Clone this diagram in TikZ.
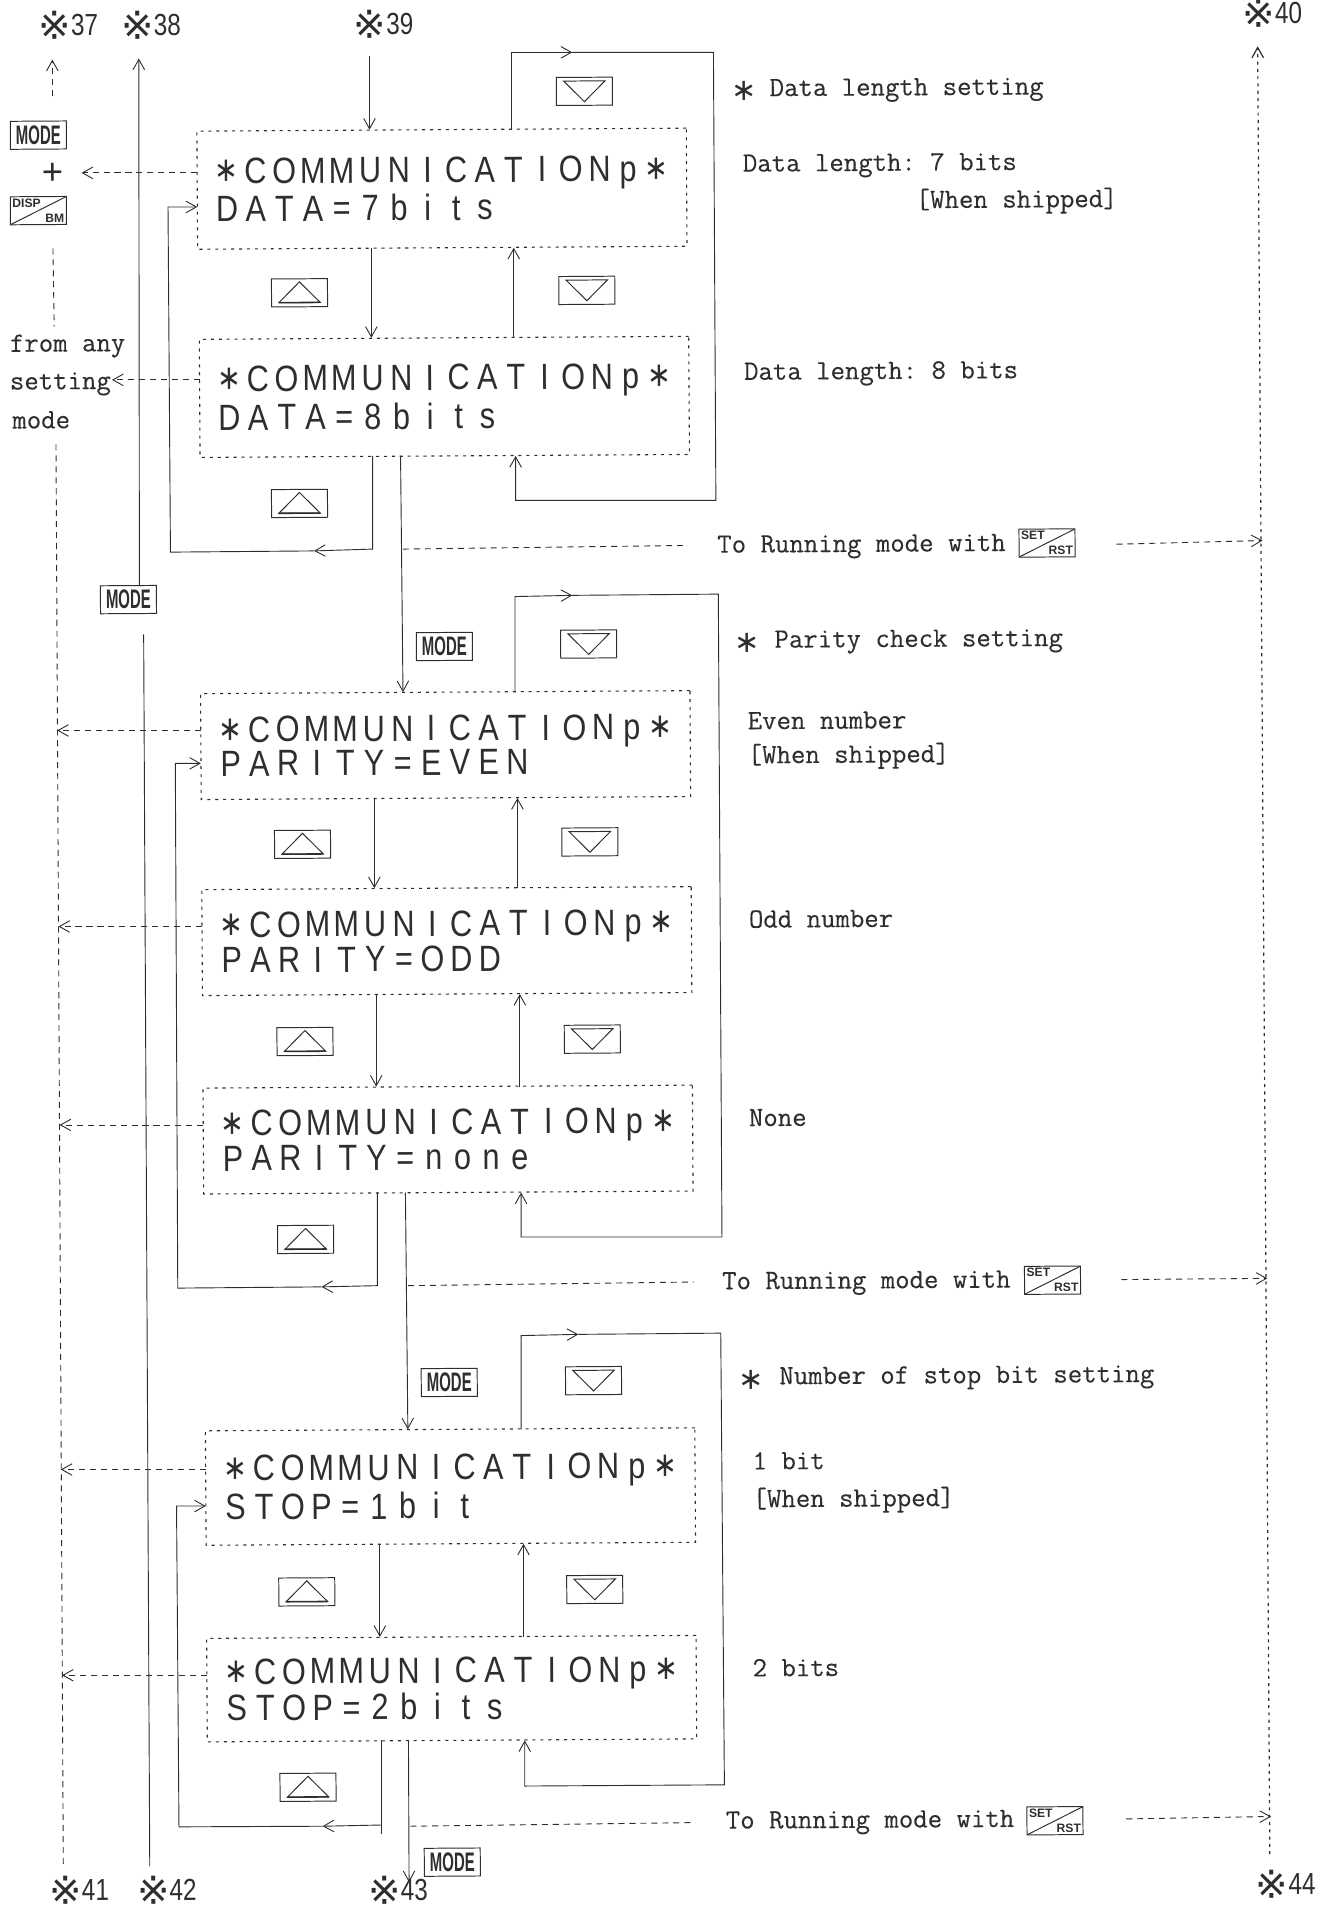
\documentclass[tikz,border=0pt]{standalone}
\usepackage{fontspec}
\usetikzlibrary{arrows.meta,calc}
\newfontfamily\lcdfam{Liberation Sans}
\newfontfamily\symfam{DejaVu Sans}
\setmonofont[FakeBold=0.2]{Latin Modern Mono}
\definecolor{ink}{gray}{0.18}
\newcommand{\lcdcell}[1]{\makebox[23.55pt]{\scalebox{0.84}[1]{#1}}}
\def\lcdrow#1{\lcdloop#1\relax}
\def\lcdloop#1{\ifx#1\relax\else\lcdcell{#1}\expandafter\lcdloop\fi}
\newcommand{\stc}{\raisebox{1.5pt}{\symfam\fontsize{28}{28}\selectfont ∗}}
\newcommand{\lcdtwo}[3]{\vbox{\hsize=376.8pt\lineskiplimit=-100pt\baselineskip=#1pt
  \lcdfam\fontsize{30}{30}\selectfont\baselineskip=#1pt
  \hbox{\lcdrow{#2}}\hbox{\lcdrow{#3}}}}
\newcommand{\hdrmark}{{\symfam\fontsize{25}{25}\selectfont ∗}}
\newcommand{\refm}[1]{\raisebox{-3pt}[14pt][1pt]{\symfam\fontsize{32}{32}\selectfont ※}{\lcdfam\fontsize{25}{25}\selectfont\scalebox{0.8}[1]{#1}}}
\newcommand{\modetext}{\scalebox{0.56}[1]{MODE}}
\tikzset{
  every node/.style={rotate=0.35,text=ink},
  >={Straight Barb[length=8.5pt,width=9.5pt]},
  wire/.style={draw=ink,line width=0.75pt,line join=miter},
  dashwire/.style={wire,dash pattern=on 5pt off 4pt},
  dotwire/.style={wire,line width=1pt,dash pattern=on 2.5pt off 3.5pt},
  lcdbox/.style={draw=ink,line width=0.9pt,dash pattern=on 2.5pt off 4pt,minimum width=402pt,inner sep=0pt,outer sep=0pt},
  keybox/.style={draw=ink,line width=0.8pt,minimum width=46pt,minimum height=23pt,inner sep=0pt,outer sep=0pt},
  modekey/.style={keybox,font=\lcdfam\bfseries\fontsize{22}{22}\selectfont},
  downkey/.style={keybox,path picture={
    \draw[ink,line width=0.8pt] ([xshift=-17pt,yshift=8.5pt]path picture bounding box.center) -- ([xshift=17pt,yshift=8.5pt]path picture bounding box.center) -- ([yshift=-8.5pt]path picture bounding box.center) -- cycle;}},
  upkey/.style={keybox,path picture={
    \draw[ink,line width=0.8pt] ([xshift=-17pt,yshift=-8pt]path picture bounding box.center) -- ([xshift=17pt,yshift=-8pt]path picture bounding box.center) -- ([yshift=9pt]path picture bounding box.center) -- cycle;
    \draw[ink,line width=1.3pt] ([xshift=-17pt,yshift=-8pt]path picture bounding box.center) -- ([xshift=17pt,yshift=-8pt]path picture bounding box.center);}},
  splitkey/.style={keybox,path picture={
    \draw[ink,line width=0.8pt] (path picture bounding box.south west) -- (path picture bounding box.north east);}},
  keyupper/.style={anchor=north west,inner sep=1.5pt,font=\lcdfam\bfseries\fontsize{10}{10}\selectfont},
  keylower/.style={anchor=south east,inner sep=1.5pt,font=\lcdfam\bfseries\fontsize{10}{10}\selectfont},
  txt/.style={anchor=base west,inner sep=0pt,font=\ttfamily\fontsize{23}{26}\selectfont},
  refmark/.style={inner sep=0pt},
}
\begin{document}
\begin{tikzpicture}[x=1pt,y=-1pt]
\useasboundingbox (0,0) rectangle (1094,1568);

% display boxes
\node[lcdbox,minimum height=97pt] (b1) at (363,155) {\lcdtwo{31}{\stc COMMUNICATIONp\stc}{DATA=7bits}};
\node[lcdbox,minimum height=97pt] (b2) at (365,326) {\lcdtwo{32}{\stc COMMUNICATIONp\stc}{DATA=8bits}};
\node[lcdbox,minimum height=87pt] (b3) at (366,612) {\lcdtwo{28}{\stc COMMUNICATIONp\stc}{PARITY=EVEN}};
\node[lcdbox,minimum height=87pt] (b4) at (367,773) {\lcdtwo{29}{\stc COMMUNICATIONp\stc}{PARITY=ODD}};
\node[lcdbox,minimum height=87pt] (b5) at (368,936) {\lcdtwo{29}{\stc COMMUNICATIONp\stc}{PARITY=none}};
\node[lcdbox,minimum height=94pt] (b6) at (370,1221) {\lcdtwo{32}{\stc COMMUNICATIONp\stc}{STOP=1bit}};
\node[lcdbox,minimum height=85pt] (b7) at (371,1387) {\lcdtwo{30}{\stc COMMUNICATIONp\stc}{STOP=2bits}};

% reference marks
\node[refmark] (r37) at (56,21) {\refm{37}};
\node[refmark] (r38) at (124,21) {\refm{38}};
\node[refmark] (r39) at (315,20) {\refm{39}};
\node[refmark] (r40) at (1045,11) {\refm{40}};
\node[refmark] (r41) at (65,1553) {\refm{41}};
\node[refmark] (r42) at (137,1553) {\refm{42}};
\node[refmark] (r43) at (327,1553) {\refm{43}};
\node[refmark] (r44) at (1056,1548) {\refm{44}};

% left column
\node[modekey] (kmode0) at (31.5,111) {\modetext};
\node[inner sep=0pt,font=\lcdfam\fontsize{30}{30}\selectfont] (plus) at (43,143) {+};
\node[splitkey] (kdisp) at (31.5,173) {};
\node[keyupper] (kdispa) at (kdisp.north west) {DISP};
\node[keylower] (kdispb) at (kdisp.south east) {BM};
\node[txt] (t1) at (8,289) {from any};
\node[txt] (t2) at (8,320) {setting};
\node[txt] (t3) at (10,352) {mode};
\node[modekey] (kmode1) at (105.5,492.5) {\modetext};

% keys, section 1
\node[downkey] (d1) at (480,75) {};
\node[upkey] (u1) at (246,240.5) {};
\node[downkey] (d2) at (482,238.5) {};
\node[upkey] (u2) at (246,413.5) {};
% section 2
\node[modekey] (kmode2) at (365,531) {\modetext};
\node[downkey] (d3) at (483.5,529) {};
\node[upkey] (u3) at (248.5,693.5) {};
\node[downkey] (d4) at (484.5,691.5) {};
\node[upkey] (u4) at (250.5,855.5) {};
\node[downkey] (d5) at (486.5,853.5) {};
\node[upkey] (u5) at (251,1018) {};
% section 3
\node[modekey] (kmode3) at (369,1135.5) {\modetext};
\node[downkey] (d6) at (487.5,1134) {};
\node[upkey] (u6) at (252,1307.5) {};
\node[downkey] (d7) at (488.5,1305.5) {};
\node[upkey] (u7) at (253,1468) {};
\node[modekey] (kmode4) at (371.5,1529.5) {\modetext};

% right texts
\node[inner sep=0pt] (a1) at (611,75) {\hdrmark};
\node[txt] (h1) at (632,79) {Data length setting};
\node[txt] (n1) at (610,141) {Data length: 7 bits};
\node[txt] (n2) at (752,171) {[When shipped]};
\node[txt] (n3) at (611,312) {Data length: 8 bits};
\node[inner sep=0pt] (a2) at (614,528) {\hdrmark};
\node[txt] (h2) at (636,532) {Parity check setting};
\node[txt] (n4) at (614,599) {Even number};
\node[txt] (n5) at (614,627) {[When shipped]};
\node[txt] (n6) at (615,762) {Odd number};
\node[txt] (n7) at (615,925) {None};
\node[inner sep=0pt] (a3) at (617,1133) {\hdrmark};
\node[txt] (h3) at (640,1137) {Number of stop bit setting};
\node[txt] (n8) at (618,1207) {1 bit};
\node[txt] (n9) at (618,1238) {[When shipped]};
\node[txt] (n10) at (618,1377) {2 bits};
\node[txt] (run1) at (589,454) {To Running mode with};
\node[splitkey] (s1) at (860,446) {};
\node[keyupper] (s1a) at (s1.north west) {SET};
\node[keylower] (s1b) at (s1.south east) {RST};
\node[txt] (run2) at (593,1059) {To Running mode with};
\node[splitkey] (s2) at (864.5,1051.5) {};
\node[keyupper] (s2a) at (s2.north west) {SET};
\node[keylower] (s2b) at (s2.south east) {RST};
\node[txt] (run3) at (596,1502) {To Running mode with};
\node[splitkey] (s3) at (866.5,1495.5) {};
\node[keyupper] (s3a) at (s3.north west) {SET};
\node[keylower] (s3b) at (s3.south east) {RST};

% free ends
\coordinate (c37a) at (43,79);
\coordinate (c37b) at (43,49);
\coordinate (c38a) at (114.5,481);
\coordinate (c38b) at (114,48);
\coordinate (c38c) at (118,521);
\coordinate (c38d) at (123,1533);
\coordinate (c39) at (303.5,46);
\coordinate (rvt) at (1033,38);
\coordinate (rvb) at (1043,1523);
\coordinate (lvt1) at (43.5,204);
\coordinate (lvb1) at (44.5,268);
\coordinate (lvt2) at (46,365);
\coordinate (lvb2) at (52,1533);

% outer verticals
\draw[dashwire,->] (c37a) -- (c37b);
\draw[wire,->] (c38a) -- (c38b);
\draw[wire] (c38c) -- (c38d);
\draw[dashwire] (lvt1) -- (lvb1);
\draw[dashwire] (lvt2) -- (lvb2);
\draw[dotwire,->] (rvb) -- (rvt);
\draw[wire,->] (c39) -- (303.5,0 |- b1.north);

% section 1
\coordinate (m1) at (470,43);
\coordinate (m2) at (258,452.5);
\draw[wire,->] (420,0 |- b1.north) -- (420,43) -- (m1);
\draw[wire,->] (m1) -- (586,43) -- (588,411) -- (423.5,411) -- (423.5,0 |- b2.south);
\draw[wire,->] (305,0 |- b1.south) -- (305,0 |- b2.north);
\draw[wire,->] (422,0 |- b2.north) -- (422,0 |- b1.south);
\draw[wire,->] (306,0 |- b2.south) -- (306,451) -- (m2);
\draw[wire,->] (m2) -- (140,453.5) -- (138,170) -- (b1.west |- 0,170);
\draw[wire,->] (329,0 |- b2.south) -- (331,0 |- b3.north);
\coordinate (x1) at (331,451);
\coordinate (y1) at (565,448);
\draw[dashwire] (x1) -- (y1);
\coordinate (x2) at (917,447);
\coordinate (y2) at (1037,444);
\draw[dashwire,->] (x2) -- (y2);

% section 2
\coordinate (m3) at (470,489);
\coordinate (m4) at (264,1057);
\draw[wire,->] (423,0 |- b3.north) -- (423,490) -- (m3);
\draw[wire,->] (m3) -- (590,488) -- (593,1016) -- (428,1016) -- (428,0 |- b5.south);
\draw[wire,->] (307.5,0 |- b3.south) -- (307.5,0 |- b4.north);
\draw[wire,->] (425,0 |- b4.north) -- (425,0 |- b3.south);
\draw[wire,->] (309,0 |- b4.south) -- (309,0 |- b5.north);
\draw[wire,->] (427,0 |- b5.north) -- (427,0 |- b4.south);
\draw[wire,->] (310,0 |- b5.south) -- (310,1056) -- (m4);
\draw[wire,->] (m4) -- (146,1058) -- (144,627) -- (b3.west |- 0,627);
\draw[wire,->] (333,0 |- b5.south) -- (335,0 |- b6.north);
\coordinate (x3) at (335,1056);
\coordinate (y3) at (570,1053);
\draw[dashwire] (x3) -- (y3);
\coordinate (x4) at (921,1051);
\coordinate (y4) at (1041,1050);
\draw[dashwire,->] (x4) -- (y4);

% section 3
\coordinate (m5) at (475,1096);
\coordinate (m6) at (265,1500);
\draw[wire,->] (428,0 |- b6.north) -- (428,1097) -- (m5);
\draw[wire,->] (m5) -- (592,1095) -- (595,1466) -- (431,1467) -- (431,0 |- b7.south);
\draw[wire,->] (312,0 |- b6.south) -- (312,0 |- b7.north);
\draw[wire,->] (430,0 |- b7.north) -- (430,0 |- b6.south);
\draw[wire] (313,0 |- b7.south) -- (313,1506);
\draw[wire,->] (313,1499) -- (m6);
\draw[wire,->] (m6) -- (147,1500.5) -- (145,1237) -- (b6.west |- 0,1237);
\coordinate (e43) at (336,1546);
\draw[wire,->] (335.5,0 |- b7.south) -- (e43);
\coordinate (x5) at (337,1500);
\coordinate (y5) at (571,1497);
\draw[dashwire] (x5) -- (y5);
\coordinate (x6) at (925,1494);
\coordinate (y6) at (1044,1492);
\draw[dashwire,->] (x6) -- (y6);

% dashed exits to the left
\coordinate (l1) at (67,142);
\coordinate (l2) at (92,312);
\coordinate (l3) at (47,600);
\coordinate (l4) at (48,761);
\coordinate (l5) at (49,924);
\coordinate (l6) at (50,1207);
\coordinate (l7) at (51,1376);
\draw[dashwire,->] (b1.west |- l1) -- (l1);
\draw[dashwire,->] (b2.west |- l2) -- (l2);
\draw[dashwire,->] (b3.west |- l3) -- (l3);
\draw[dashwire,->] (b4.west |- l4) -- (l4);
\draw[dashwire,->] (b5.west |- l5) -- (l5);
\draw[dashwire,->] (b6.west |- l6) -- (l6);
\draw[dashwire,->] (b7.west |- l7) -- (l7);
\end{tikzpicture}
\end{document}
